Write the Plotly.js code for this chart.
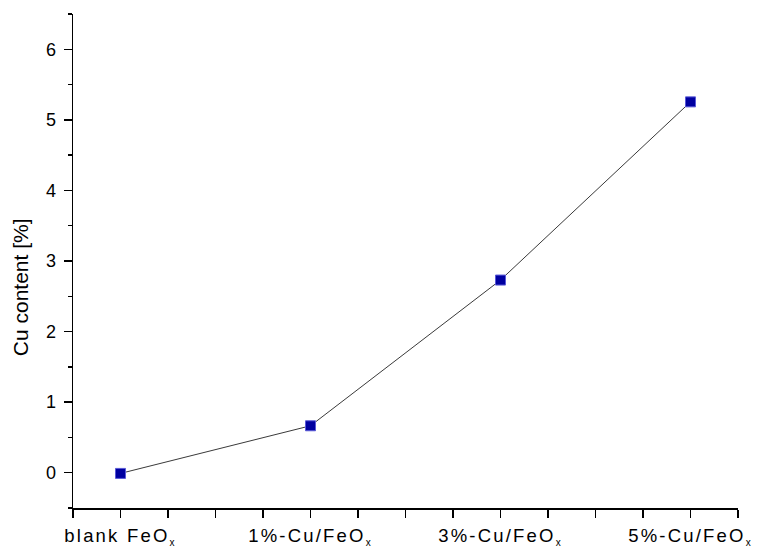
<!DOCTYPE html>
<html>
<head>
<meta charset="utf-8">
<script src="https://cdn.plot.ly/plotly-3.0.1.min.js"></script>
<style>
  html, body { margin: 0; padding: 0; background: #fff; }
  #chart { width: 760px; height: 548px; }
  .xtick text { letter-spacing: 2.2px; }
</style>
</head>
<body>
<div id="chart"></div>
<script>
const categories = [
  "blank FeO<sub><span style='font-size:10px'>x</span></sub>",
  "1%-Cu/FeO<sub><span style='font-size:10px'>x</span></sub>",
  "3%-Cu/FeO<sub><span style='font-size:10px'>x</span></sub>",
  "5%-Cu/FeO<sub><span style='font-size:10px'>x</span></sub>"
];
const positions = [0, 1, 2, 3];
const cuContent = [-0.01, 0.665, 2.73, 5.255];
const yTickVals = [0, 1, 2, 3, 4, 5, 6];
const yTitle = "Cu content [%]";

const fontFam = "Arial, 'Liberation Sans', sans-serif";

const trace = {
  x: positions,
  y: cuContent,
  type: "scatter",
  mode: "lines+markers",
  line: { color: "#3a3a3a", width: 1 },
  marker: { symbol: "square", size: 10, color: "#0000a0", line: { color: "#5a5ad8", width: 1 } },
  hoverinfo: "skip",
  showlegend: false
};

const layout = {
  width: 760,
  height: 548,
  margin: { l: 73, r: 22, t: 14, b: 40 },
  paper_bgcolor: "#ffffff",
  plot_bgcolor: "#ffffff",
  font: { family: fontFam, color: "#000", size: 18 },
  xaxis: {
    range: [-0.25, 3.25],
    tickmode: "array",
    tickvals: positions,
    ticktext: categories,
    ticks: "outside",
    ticklen: 8,
    tickwidth: 1.5,
    tickcolor: "#000",
    showline: true,
    linecolor: "#000",
    linewidth: 1.5,
    showgrid: false,
    zeroline: false,
    ticklabelstandoff: 2,
    tickfont: { family: fontFam, size: 18.5, color: "#000" },
    minor: { tickmode: "linear", tick0: 0, dtick: 0.25, ticks: "outside", ticklen: 8, tickwidth: 1.5, tickcolor: "#000", showgrid: false }
  },
  yaxis: {
    range: [-0.5, 6.5],
    tickmode: "array",
    tickvals: yTickVals,
    ticks: "outside",
    ticklen: 8,
    tickwidth: 1.5,
    tickcolor: "#000",
    showline: true,
    linecolor: "#000",
    linewidth: 1.5,
    showgrid: false,
    zeroline: false,
    ticklabelstandoff: 4,
    tickfont: { family: fontFam, size: 18, color: "#000" },
    minor: { tickmode: "linear", tick0: 0, dtick: 0.5, ticks: "outside", ticklen: 4, tickwidth: 1.5, tickcolor: "#000", showgrid: false }
  },
  annotations: [{
    text: yTitle,
    xref: "paper", yref: "paper",
    x: -0.0797, y: 0.447,
    xanchor: "center", yanchor: "middle",
    textangle: -90,
    showarrow: false,
    font: { family: fontFam, size: 21, color: "#000" }
  }]
};

Plotly.newPlot("chart", [trace], layout, { displayModeBar: false, staticPlot: true });
</script>
</body>
</html>
